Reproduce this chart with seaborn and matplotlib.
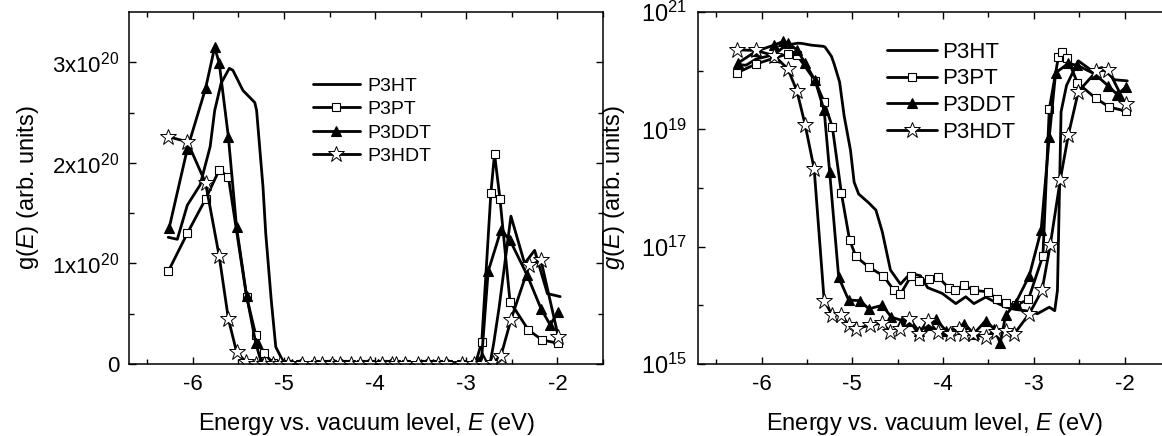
import numpy as np
import pandas as pd
import matplotlib
matplotlib.use("Agg")
import matplotlib.pyplot as plt
import seaborn as sns
from matplotlib.ticker import FixedLocator, FixedFormatter, NullFormatter, MultipleLocator

# ---------------- data (energy in eV, g(E) in arb. units) ----------------
series_names = ["P3HT", "P3PT", "P3DDT", "P3HDT"]

p3ht_E = [-6.27, -6.17, -6.06, -5.92, -5.81, -5.76, -5.69, -5.60, -5.56, -5.45,
          -5.32, -5.30, -5.23, -5.20, -5.14, -5.09, -5.02, -4.98, -4.93, -4.82,
          -4.74, -4.67, -4.58, -4.47, -4.36, -4.25, -4.17, -4.01, -3.86, -3.75,
          -3.66, -3.53, -3.42, -3.31, -3.20, -3.09, -2.96, -2.83, -2.77, -2.74,
          -2.70, -2.64, -2.51, -2.36, -2.25, -2.11, -1.97]
p3ht_g = [1.26e20, 1.24e20, 1.58e20, 1.78e20, 2.16e20, 2.52e20, 2.79e20, 2.94e20, 2.92e20, 2.72e20,
          2.60e20, 2.52e20, 1.76e20, 1.30e20, 0.64e20, 1.7e19, 4.4e18, 1.26e18, 7.9e17, 5.6e17,
          4.2e17, 1.8e17, 4.0e16, 2.3e16, 3.5e16, 3.2e16, 2.0e16, 1.6e16, 1.07e16, 1.4e16,
          1.07e16, 1.38e16, 1.12e16, 9.3e15, 8.5e15, 8.1e15, 7.2e15, 9.3e15, 8.1e15, 1.8e16,
          2.0e19, 5.6e19, 1.47e20, 1.00e20, 1.13e20, 0.70e20, 0.67e20]

p3pt_E = [-6.27, -6.06, -5.86, -5.71, -5.61, -5.41, -5.31, -5.22, -5.12, -5.03,
          -4.96, -4.82, -4.66, -4.54, -4.47, -4.35, -4.26, -4.16, -4.06, -3.94,
          -3.87, -3.77, -3.66, -3.51, -3.41, -3.31, -3.20, -3.06, -2.90, -2.83,
          -2.73, -2.69, -2.63, -2.52, -2.32, -2.17, -1.99]
p3pt_g = [0.92e20, 1.30e20, 1.64e20, 1.93e20, 1.86e20, 0.67e20, 0.29e20, 1.1e19, 8.1e17, 1.3e17,
          6.8e16, 4.5e16, 3.2e16, 1.8e16, 1.55e16, 3.2e16, 2.6e16, 2.8e16, 3.1e16, 2.0e16,
          1.86e16, 2.2e16, 1.8e16, 1.7e16, 1.3e16, 1.1e16, 1.0e16, 1.26e16, 7.0e16, 0.22e20,
          1.70e20, 2.09e20, 1.64e20, 0.62e20, 0.34e20, 0.24e20, 0.205e20]

p3ddt_E = [-6.26, -6.06, -5.86, -5.76, -5.71, -5.61, -5.52, -5.41, -5.31, -5.25,
           -5.15, -5.04, -4.91, -4.82, -4.67, -4.57, -4.45, -4.36, -4.27, -4.15,
           -4.08, -3.97, -3.84, -3.77, -3.66, -3.53, -3.44, -3.37, -3.31, -3.20,
           -3.05, -2.92, -2.83, -2.76, -2.62, -2.52, -2.33, -2.18, -2.08, -1.99]
p3ddt_g = [1.35e20, 2.14e20, 2.74e20, 3.15e20, 2.99e20, 2.26e20, 1.36e20, 0.68e20, 0.21e20, 1.9e18,
           3.0e16, 1.23e16, 1.2e16, 8.7e15, 1.0e16, 6.3e15, 5.5e15, 5.5e15, 3.7e15, 4.6e15,
           5.9e15, 3.7e15, 4.0e15, 4.9e15, 3.3e15, 5.5e15, 4.0e15, 2.3e15, 6.8e15, 1.1e16,
           3.2e16, 1.9e17, 7.4e18, 0.92e20, 1.33e20, 1.23e20, 0.88e20, 0.55e20, 0.39e20, 0.52e20]

p3hdt_E = [-6.27, -6.06, -5.86, -5.71, -5.61, -5.52, -5.42, -5.31, -5.22, -5.12,
           -5.04, -4.96, -4.80, -4.67, -4.58, -4.47, -4.38, -4.27, -4.17, -4.06,
           -3.92, -3.82, -3.77, -3.67, -3.53, -3.42, -3.31, -3.22, -3.05, -2.91,
           -2.82, -2.71, -2.62, -2.51, -2.31, -2.18, -1.99]
p3hdt_g = [2.26e20, 2.21e20, 1.80e20, 1.07e20, 0.45e20, 0.12e20, 2.1e18, 1.2e16, 6.8e15, 6.9e15,
           4.6e15, 4.0e15, 4.6e15, 5.0e15, 3.5e15, 4.0e15, 5.9e15, 3.2e15, 5.5e15, 3.5e15,
           3.2e15, 4.0e15, 3.2e15, 3.2e15, 2.9e15, 3.5e15, 3.7e15, 3.2e15, 7.2e15, 1.8e16,
           1.05e17, 1.35e18, 0.08e20, 0.44e20, 0.98e20, 1.03e20, 0.27e20]

lin_yticks = [0, 1e20, 2e20, 3e20]
lin_yticklabels = ["0", r"$\mathregular{1x10^{20}}$", r"$\mathregular{2x10^{20}}$",
                   r"$\mathregular{3x10^{20}}$"]
log_yticks = [1e15, 1e17, 1e19, 1e21]
log_yticklabels = [r"$\mathregular{10^{15}}$", r"$\mathregular{10^{17}}$",
                   r"$\mathregular{10^{19}}$", r"$\mathregular{10^{21}}$"]
xticks = [-6, -5, -4, -3, -2]
xticklabels = ["-6", "-5", "-4", "-3", "-2"]

xlabel = "Energy vs. vacuum level, $E$ (eV)"

# ---------------- style ----------------
sns.set_theme(style="ticks")
plt.rcParams.update({
    "font.family": ["Liberation Sans", "DejaVu Sans"],
    "mathtext.fontset": "custom",
    "mathtext.rm": "Liberation Sans",
    "mathtext.it": "Liberation Sans:italic",
    "mathtext.bf": "Liberation Sans:bold",
    "axes.linewidth": 1.1,
    "axes.edgecolor": "black",
    "xtick.color": "black",
    "ytick.color": "black",
    "text.color": "black",
    "axes.labelcolor": "black",
})

data = {
    "P3HT": (p3ht_E, p3ht_g),
    "P3PT": (p3pt_E, p3pt_g),
    "P3DDT": (p3ddt_E, p3ddt_g),
    "P3HDT": (p3hdt_E, p3hdt_g),
}
styles = {
    "P3HT": dict(marker=None),
    "P3PT": dict(marker="s", markersize=6, markerfacecolor="white",
                 markeredgecolor="black", markeredgewidth=0.8),
    "P3DDT": dict(marker="^", markersize=7, markerfacecolor="black",
                  markeredgecolor="black", markeredgewidth=0.8),
    "P3HDT": dict(marker="*", markersize=12, markerfacecolor="white",
                  markeredgecolor="black", markeredgewidth=0.7),
}

fig = plt.figure(figsize=(11.62, 4.36), dpi=100)
W, H = 1162, 436
ax1 = fig.add_axes([129 / W, (H - 364) / H, 474 / W, 352 / H])
ax2 = fig.add_axes([698 / W, (H - 364) / H, 472 / W, 352 / H])

for ax, logy in [(ax1, False), (ax2, True)]:
    if logy:
        ax.set_yscale("log")
    for name in series_names:
        E, g = data[name]
        df = pd.DataFrame({"E": E, "g": g})
        sns.lineplot(data=df, x="E", y="g", ax=ax, sort=False, estimator=None,
                     color="black", linewidth=2.0, label=name, legend=False,
                     **styles[name])
    ax.set_xlim(-6.7, -1.5)
    ax.set_xticks(xticks)
    ax.set_xticklabels(xticklabels)
    ax.xaxis.set_minor_locator(MultipleLocator(0.5))
    ax.tick_params(which="both", direction="in", top=True, right=not logy,
                   labelsize=16, width=1.0, pad=7)
    ax.tick_params(which="major", length=5)
    ax.tick_params(which="minor", length=3.5)
    ax.set_xlabel(xlabel, fontsize=17, labelpad=12)

ax1.set_ylim(0, 3.5e20)
ax1.yaxis.set_major_locator(FixedLocator(lin_yticks))
ax1.yaxis.set_major_formatter(FixedFormatter(lin_yticklabels))
ax1.yaxis.set_minor_locator(FixedLocator([0.5e20, 1.5e20, 2.5e20]))
ax1.set_ylabel("g($E$) (arb. units)", fontsize=17, labelpad=8)

ax2.set_ylim(1e15, 1e21)
ax2.yaxis.set_major_locator(FixedLocator(log_yticks))
ax2.yaxis.set_major_formatter(FixedFormatter(log_yticklabels))
ax2.yaxis.set_minor_locator(FixedLocator([1e16, 1e18, 1e20]))
ax2.yaxis.set_minor_formatter(NullFormatter())
ax2.tick_params(axis="y", which="major", labelsize=17, pad=8)
ax2.set_ylabel("$g$($E$) (arb. units)", fontsize=17, labelpad=10)

ax1.legend(loc="upper left", bbox_to_anchor=(0.388, 0.815), frameon=False,
           fontsize=14, handlelength=2.4, handletextpad=0.4, labelspacing=0.3,
           borderpad=0, borderaxespad=0)
ax2.legend(loc="upper left", bbox_to_anchor=(0.40, 0.915), frameon=False,
           fontsize=16, handlelength=2.25, handletextpad=0.25, labelspacing=0.25,
           borderpad=0, borderaxespad=0)

fig.savefig("out.png", dpi=100)
